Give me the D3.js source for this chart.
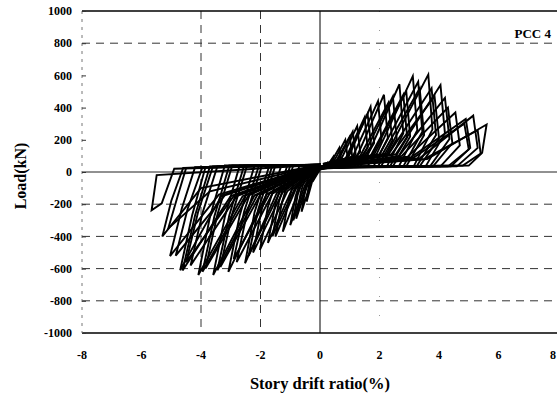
<!DOCTYPE html>
<html>
<head>
<meta charset="utf-8">
<script src="https://cdn.jsdelivr.net/npm/d3@7"></script>
<style>
  body { margin: 0; background: #fff; }
  svg text { font-family: "Liberation Serif", "Times New Roman", serif; font-weight: bold; fill: #000; }
</style>
</head>
<body>
<div id="chart"></div>
<script>
const xTicks = [-8, -6, -4, -2, 0, 2, 4, 6, 8];
const yTicks = [1000, 800, 600, 400, 200, 0, -200, -400, -600, -800, -1000];
const dashedX = [-4, -2];
const dashedY = [800, -200, -400, -600, -800];
const specimen = "PCC 4";

// positive half cycles: [drift %, load kN]
const posLoops = [
    [[0, 15], [0.15, 30], [0.25, 55], [0.28, 35], [0.1, 20], [0, 15]],
    [[0, 20], [0.25, 40], [0.45, 95], [0.5, 50], [0.25, 25], [0, 20]],
    [[0, 25], [0.35, 55], [0.65, 150], [0.72, 70], [0.4, 30], [0, 25]],
    [[0, 30], [0.45, 60], [0.85, 200], [0.93, 90], [0.6, 35], [0, 30]],
    [[-0.1, 10], [0.55, 70], [1.0, 220], [1.08, 100], [0.7, 35], [0, 30]],
    [[0, 30], [0.6, 70], [1.1, 250], [1.2, 110], [0.8, 35], [0, 30]],
    [[0.1, 50], [0.7, 75], [1.25, 285], [1.35, 125], [0.95, 35], [0, 20]],
    [[0, 30], [0.85, 80], [1.5, 340], [1.6, 150], [1.15, 35], [0, 30]],
    [[-0.1, 10], [0.9, 85], [1.6, 360], [1.72, 160], [1.25, 35], [0, 30]],
    [[0, 30], [0.95, 90], [1.7, 405], [1.82, 180], [1.35, 35], [0, 30]],
    [[0.1, 50], [1.1, 95], [1.95, 440], [2.07, 195], [1.6, 35], [0, 20]],
    [[0, 30], [1.25, 100], [2.15, 480], [2.28, 210], [1.8, 35], [0, 30]],
    [[0, 30], [1.35, 100], [2.3, 430], [2.43, 195], [1.95, 35], [0, 30]],
    [[-0.1, 15], [1.45, 100], [2.45, 470], [2.58, 205], [2.05, 35], [0, 30]],
    [[0, 30], [1.6, 105], [2.67, 545], [2.8, 240], [2.25, 35], [0, 30]],
    [[0.1, 45], [1.7, 100], [2.8, 480], [2.93, 215], [2.35, 35], [0, 25]],
    [[0, 30], [1.75, 105], [2.9, 500], [3.03, 220], [2.45, 35], [0, 30]],
    [[0, 30], [1.9, 110], [3.12, 595], [3.27, 260], [2.65, 35], [0, 30]],
    [[-0.1, 15], [2.0, 110], [3.3, 560], [3.44, 250], [2.8, 35], [0, 30]],
    [[0, 30], [2.1, 110], [3.35, 520], [3.5, 230], [2.9, 35], [0, 30]],
    [[0, 30], [2.25, 115], [3.64, 605], [3.78, 265], [3.15, 35], [0, 30]],
    [[0.1, 45], [2.3, 110], [3.75, 520], [3.9, 230], [3.25, 35], [0, 25]],
    [[0, 30], [2.4, 110], [3.85, 470], [4.0, 210], [3.35, 35], [0, 30]],
    [[0, 30], [2.55, 110], [4.05, 540], [4.2, 240], [3.55, 35], [0, 30]],
    [[-0.1, 15], [2.65, 100], [4.2, 460], [4.35, 205], [3.7, 35], [0, 30]],
    [[0, 30], [2.75, 100], [4.3, 400], [4.45, 180], [3.8, 35], [0, 30]],
    [[0, 30], [2.95, 95], [4.55, 370], [4.7, 165], [4.05, 35], [0, 30]],
    [[0.1, 45], [3.15, 90], [4.85, 300], [5.0, 140], [4.3, 35], [0, 25]],
    [[0, 30], [3.05, 90], [4.9, 330], [5.05, 150], [4.4, 35], [0, 30]],
    [[0, 30], [3.35, 85], [5.15, 350], [5.3, 150], [4.6, 35], [0, 30]],
    [[0, 30], [3.5, 80], [5.3, 260], [5.4, 115], [4.8, 40], [0, 30]],
    [[0, 30], [3.6, 80], [5.6, 295], [5.45, 120], [5.0, 40], [0, 30]]
];

// negative half cycles, same order
const negLoops = [
    [[0, 15], [-0.12, -20], [-0.25, -60], [-0.2, -30], [-0.08, 20], [0, 20]],
    [[0, 20], [-0.25, -50], [-0.45, -184], [-0.38, -90], [-0.2, 25], [0, 25]],
    [[0, 25], [-0.3, -60], [-0.62, -247], [-0.5, -110], [-0.3, 30], [0, 30]],
    [[0, 30], [-0.4, -70], [-0.8, -290], [-0.65, -130], [-0.4, 30], [0, 35]],
    [[0, 35], [-0.45, -85], [-0.9, -300], [-0.75, -140], [-0.45, 35], [0, 35]],
    [[0, 35], [-0.5, -80], [-1.0, -330], [-0.82, -150], [-0.5, 35], [0, 35]],
    [[0, 35], [-0.65, -90], [-1.25, -370], [-1.05, -170], [-0.7, 35], [0, 40]],
    [[0, 40], [-0.8, -100], [-1.5, -402], [-1.28, -190], [-0.9, 40], [0, 40]],
    [[0, 40], [-0.85, -105], [-1.6, -400], [-1.38, -185], [-1.0, 40], [0, 40]],
    [[0, 40], [-0.95, -110], [-1.75, -440], [-1.5, -200], [-1.1, 40], [0, 40]],
    [[0, 40], [-1.1, -120], [-2.02, -484], [-1.75, -215], [-1.3, 40], [0, 45]],
    [[0, 45], [-1.25, -125], [-2.25, -500], [-1.95, -225], [-1.5, 40], [0, 45]],
    [[0, 45], [-1.35, -125], [-2.4, -520], [-2.08, -235], [-1.6, 40], [0, 45]],
    [[0, 45], [-1.45, -130], [-2.52, -567], [-2.2, -250], [-1.7, 40], [0, 45]],
    [[0, 45], [-1.6, -135], [-2.8, -560], [-2.45, -250], [-1.95, 40], [0, 45]],
    [[0, 45], [-1.7, -135], [-2.9, -540], [-2.55, -245], [-2.05, 40], [0, 45]],
    [[0, 45], [-1.8, -140], [-3.08, -620], [-2.7, -270], [-2.2, 40], [0, 45]],
    [[0, 45], [-2.0, -140], [-3.35, -590], [-2.95, -260], [-2.45, 40], [0, 45]],
    [[0, 45], [-2.1, -140], [-3.45, -610], [-3.05, -270], [-2.55, 40], [0, 45]],
    [[0, 45], [-2.2, -145], [-3.59, -640], [-3.2, -280], [-2.7, 40], [0, 45]],
    [[0, 45], [-2.4, -145], [-3.85, -600], [-3.45, -265], [-2.95, 40], [0, 45]],
    [[0, 45], [-2.5, -145], [-3.95, -620], [-3.55, -275], [-3.05, 40], [0, 45]],
    [[0, 45], [-2.6, -150], [-4.09, -640], [-3.7, -280], [-3.2, 40], [0, 45]],
    [[0, 45], [-2.8, -150], [-4.35, -580], [-3.95, -255], [-3.45, 35], [0, 45]],
    [[0, 45], [-2.9, -150], [-4.5, -560], [-4.1, -250], [-3.6, 35], [0, 45]],
    [[0, 45], [-3.0, -150], [-4.62, -612], [-4.2, -270], [-3.7, 35], [0, 45]],
    [[0, 45], [-3.2, -145], [-4.85, -520], [-4.45, -230], [-3.95, 30], [0, 45]],
    [[0, 45], [-3.4, -140], [-5.04, -522], [-4.65, -230], [-4.2, 30], [0, 45]],
    [[0, 45], [-3.3, -145], [-4.7, -610], [-4.3, -270], [-3.85, 30], [0, 45]],
    [[0, 45], [-3.7, -120], [-5.1, -350], [-4.8, -160], [-4.5, 25], [0, 45]],
    [[0, 45], [-4.0, -100], [-5.3, -400], [-5.0, -180], [-4.6, 25], [0, 45]],
    [[0, 45], [-5.49, -19], [-5.66, -238], [-5.32, -195], [-4.9, 20], [0, 45]]
];

const width = 557;
const height = 396;
const margin = { top: 11, right: -1, bottom: 63, left: 82 };

const svg = d3.select("#chart")
    .append("svg")
    .attr("width", width)
    .attr("height", height);

const x = d3.scaleLinear()
    .domain([-8, 8])
    .range([margin.left, width - margin.right]);
const y = d3.scaleLinear()
    .domain([-1000, 1000])
    .range([height - margin.bottom, margin.top]);

const grid = svg.append("g");

// dashed gridlines
grid.selectAll(".hgrid")
    .data(dashedY)
    .enter()
    .append("line")
    .attr("x1", x(-8)).attr("x2", x(8))
    .attr("y1", d => y(d)).attr("y2", d => y(d))
    .attr("stroke", "#333").attr("stroke-width", 1)
    .attr("stroke-dasharray", "8,6");
grid.selectAll(".vgrid")
    .data(dashedX)
    .enter()
    .append("line")
    .attr("x1", d => x(d)).attr("x2", d => x(d))
    .attr("y1", y(1000)).attr("y2", y(-1000))
    .attr("stroke", "#333").attr("stroke-width", 1)
    .attr("stroke-dasharray", "8,6");
// faint line at +2
grid.append("line")
    .attr("x1", x(2)).attr("x2", x(2))
    .attr("y1", y(1000)).attr("y2", y(-1000))
    .attr("stroke", "#999").attr("stroke-width", 1)
    .attr("stroke-dasharray", "1,18");

// zero lines
grid.append("line")
    .attr("x1", x(0)).attr("x2", x(0))
    .attr("y1", y(1000)).attr("y2", y(-1000))
    .attr("stroke", "#000").attr("stroke-width", 1);
grid.append("line")
    .attr("x1", x(-8)).attr("x2", x(8))
    .attr("y1", y(0)).attr("y2", y(0))
    .attr("stroke", "#222").attr("stroke-width", 1);

// frame: top and bottom solid, left faint
grid.append("line")
    .attr("x1", x(-8)).attr("x2", x(8))
    .attr("y1", y(1000)).attr("y2", y(1000))
    .attr("stroke", "#000").attr("stroke-width", 1.3);
grid.append("line")
    .attr("x1", x(-8)).attr("x2", x(8))
    .attr("y1", y(-1000)).attr("y2", y(-1000))
    .attr("stroke", "#000").attr("stroke-width", 1.3);
grid.append("line")
    .attr("x1", x(-8)).attr("x2", x(-8))
    .attr("y1", y(1000)).attr("y2", y(-1000))
    .attr("stroke", "#777").attr("stroke-width", 1)
    .attr("stroke-dasharray", "3,5");

// y axis: inward ticks, bold labels
const yAxis = svg.append("g")
    .attr("transform", `translate(${margin.left},0)`)
    .call(d3.axisRight(y).tickValues(yTicks).tickSize(4).tickFormat(""));
yAxis.select(".domain").remove();
yAxis.selectAll(".tick line").attr("stroke", "#333");

svg.selectAll(".ylab")
    .data(yTicks)
    .enter()
    .append("text")
    .attr("x", margin.left - 10)
    .attr("y", d => y(d))
    .attr("dy", "0.35em")
    .attr("text-anchor", "end")
    .attr("font-size", 12)
    .text(d => d);

svg.selectAll(".xlab")
    .data(xTicks)
    .enter()
    .append("text")
    .attr("x", d => Math.min(x(d), width - 4))
    .attr("y", y(-1000) + 22)
    .attr("dy", "0.35em")
    .attr("text-anchor", "middle")
    .attr("font-size", 12)
    .text(d => d);

// hysteresis loops
const line = d3.line()
    .x(d => x(d[0]))
    .y(d => y(d[1]));

const loops = svg.append("g");
posLoops.forEach((p, i) => {
    loops.append("path")
        .attr("d", line(p.concat(negLoops[i])))
        .attr("fill", "none")
        .attr("stroke", "#000")
        .attr("stroke-width", 1.9)
        .attr("stroke-linejoin", "miter");
});

// titles
svg.append("text")
    .attr("x", x(0))
    .attr("y", 383)
    .attr("dy", "0.35em")
    .attr("text-anchor", "middle")
    .attr("font-size", 16.5)
    .text("Story drift ratio(%)");

svg.append("text")
    .attr("transform", `translate(20,${y(0) + 4}) rotate(-90)`)
    .attr("dy", "0.35em")
    .attr("text-anchor", "middle")
    .attr("font-size", 16)
    .text("Load(kN)");

svg.append("text")
    .attr("x", 551)
    .attr("y", 33)
    .attr("dy", "0.35em")
    .attr("text-anchor", "end")
    .attr("font-size", 13)
    .text(specimen);
</script>
</body>
</html>
